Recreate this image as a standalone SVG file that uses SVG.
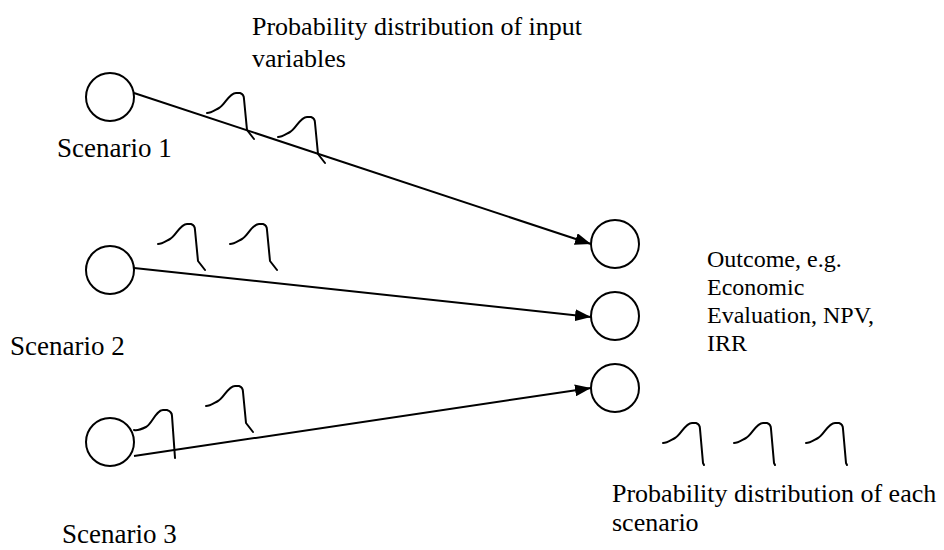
<svg xmlns="http://www.w3.org/2000/svg" width="944" height="550" viewBox="0 0 944 550">
<style>
text{font-family:"Liberation Serif","Times New Roman",serif;font-size:26px;fill:#000}
.s{font-size:27px}
.o{font-size:24px}
.n{fill:#fff;stroke:#000;stroke-width:2}
.c{stroke:#000;stroke-width:2;fill:none}
.b{stroke:#000;stroke-width:2;fill:none;stroke-linecap:round;stroke-linejoin:round}
</style>
<defs>
<marker id="ah" markerWidth="16" markerHeight="12" refX="16" refY="6" orient="auto" markerUnits="userSpaceOnUse" viewBox="0 0 16 12">
<path d="M0,0 L16,6 L0,12 Z" fill="#000"/>
</marker>
<path id="bump" d="M0,0 C4,0 8,-3 12,-5 C18,-8 22,-20 29,-20 L33,-20 C36,-19 37,-17 37,-14 L40,17 L47,26"/>
<path id="bump2" d="M0,0 C4,0 8,-3 12,-5 C18,-8 22,-20 29,-20 L33,-20 C36,-19 37,-17 37,-14 L40,20 L41,22"/>
</defs>
<g id="connectors">
<line class="c" x1="134" y1="93" x2="591" y2="244" marker-end="url(#ah)"/>
<line class="c" x1="134" y1="268" x2="591" y2="317" marker-end="url(#ah)"/>
<line class="c" x1="134" y1="456" x2="591" y2="388" marker-end="url(#ah)"/>
</g>
<g id="scenario1"><circle class="n" cx="110" cy="97" r="24"/><text class="s" x="57" y="157">Scenario 1</text></g>
<g id="scenario2"><circle class="n" cx="110" cy="270" r="24"/><text class="s" x="10" y="355">Scenario 2</text></g>
<g id="scenario3"><circle class="n" cx="110" cy="442" r="24"/><text class="s" x="62" y="543">Scenario 3</text></g>
<g id="outcome1"><circle class="n" cx="615" cy="244" r="24"/></g>
<g id="outcome2"><circle class="n" cx="615" cy="316" r="24"/></g>
<g id="outcome3"><circle class="n" cx="615" cy="388" r="24"/></g>
<g id="outcome-label"><text class="o"><tspan x="707" y="267">Outcome, e.g.</tspan><tspan x="707" y="295">Economic</tspan><tspan x="707" y="323">Evaluation, NPV,</tspan><tspan x="707" y="351">IRR</tspan></text></g>
<g id="input-label"><text><tspan x="252" y="35">Probability distribution of input</tspan><tspan x="252" y="67">variables</tspan></text></g>
<g id="scenario-label"><text><tspan x="612" y="502">Probability distribution of each</tspan><tspan x="612" y="531">scenario</tspan></text></g>
<g id="distributions">
<use href="#bump" class="b" x="207" y="113"/>
<use href="#bump" class="b" x="278" y="137"/>
<use href="#bump" class="b" x="158" y="244"/>
<use href="#bump" class="b" x="230" y="244"/>
<path class="b" d="M134,430 C138,431 142,429 146,427 C152,424 156,410 163,410 L167,410 C170,411 172,413 172,416 L175,458"/>
<use href="#bump" class="b" x="206" y="406"/>
<use href="#bump2" class="b" x="663" y="443"/>
<use href="#bump2" class="b" x="734" y="443"/>
<use href="#bump2" class="b" x="806" y="443"/>
</g>
</svg>
